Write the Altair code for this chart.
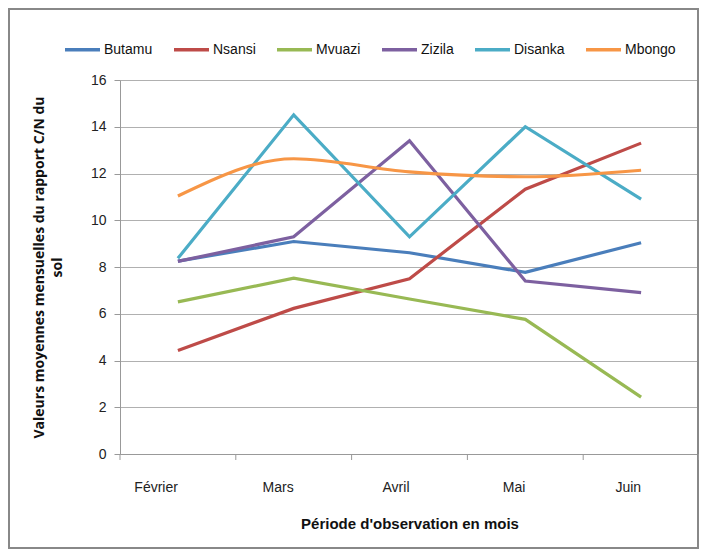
import altair as alt
import pandas as pd

months = ["Février", "Mars", "Avril", "Mai", "Juin"]
series = ["Butamu", "Nsansi", "Mvuazi", "Zizila", "Disanka", "Mbongo"]
butamu = [8.25, 9.09, 8.61, 7.77, 9.04]
nsansi = [4.43, 6.23, 7.5, 11.33, 13.3]
mvuazi = [6.51, 7.52, 6.63, 5.76, 2.43]
zizila = [8.24, 9.29, 13.4, 7.4, 6.9]
disanka = [8.37, 14.51, 9.29, 14.0, 10.9]
mbongo = [11.04, 12.63, 12.07, 11.86, 12.14]
colors = ["#4A7EBB", "#BE4B48", "#98B954", "#7D60A0", "#4BACC6", "#F79646"]

vals = [butamu, nsansi, mvuazi, zizila, disanka, mbongo]
rows = []
for s, v in zip(series, vals):
    for m, y in zip(months, v):
        rows.append({"Série": s, "Mois": m, "Valeur": y, "ordre": series.index(s)})
df = pd.DataFrame(rows)
mdf = pd.DataFrame({"Mois": months})

W, H = 579, 374
FONT = "Liberation Sans, Arial, sans-serif"

xscale = alt.Scale(domain=months, paddingInner=0, paddingOuter=0)
yscale = alt.Scale(domain=[0, 16])
cscale = alt.Scale(domain=series, range=colors)

x_enc = alt.X("Mois:N", scale=xscale, sort=months,
              axis=alt.Axis(title="Période d'observation en mois", labelAngle=0,
                            ticks=False, labelPadding=33, labelFontSize=14,
                            labelColor="#222", domainColor="#999",
                            titleFontSize=15, titleFontWeight="bold", titleColor="#111",
                            titlePadding=22, labelFont=FONT, titleFont=FONT))
y_enc = alt.Y("Valeur:Q", scale=yscale,
              axis=alt.Axis(title=["Valeurs moyennes mensuelles du rapport C/N du", "sol"],
                            values=list(range(0, 17, 2)), tickSize=6, tickColor="#999",
                            domainColor="#999", gridColor="#B0B0B0", labelFontSize=14,
                            labelColor="#222", labelPadding=8, labelFont=FONT,
                            titleFont="Open Sans", titleFontSize=14, titleFontWeight="bold",
                            titleColor="#111", titleX=-88, titleY=187, titleBaseline="top",
                            titleAlign="center", titleLineHeight=18))

legend = alt.Legend(title=None, orient="none", direction="horizontal", legendX=-57,
                    legendY=-50, symbolType="stroke", symbolSize=1225,
                    symbolStrokeWidth=3.5, labelFontSize=14, labelFont=FONT,
                    labelColor="#111", columnPadding=14, labelOffset=2, columns=6)

base = alt.Chart(df)
lines_lin = base.transform_filter(alt.datum["Série"] != "Mbongo").mark_line(
    strokeWidth=3.2).encode(
    x=x_enc, y=y_enc,
    color=alt.Color("Série:N", scale=cscale, sort=series, legend=legend),
    order="ordre:Q",
)
lines_smooth = base.transform_filter(alt.datum["Série"] == "Mbongo").mark_line(
    strokeWidth=3.2, interpolate="monotone").encode(
    x=x_enc, y=y_enc,
    color=alt.Color("Série:N", scale=cscale, sort=series, legend=legend),
)
ticks = alt.Chart(mdf).mark_rule(color="#999").encode(
    x=alt.X("Mois:N", scale=xscale, sort=months, bandPosition=0),
    y=alt.value(H), y2=alt.value(H + 6))
tick_end = alt.Chart(mdf).mark_rule(color="#999").encode(
    x=alt.value(W), y=alt.value(H), y2=alt.value(H + 6))
border = alt.Chart(mdf).mark_rect(fill=None, stroke="#888", strokeWidth=1.5, clip=False).encode(
    x=alt.value(-111), x2=alt.value(W - 1), y=alt.value(-71), y2=alt.value(H + 94))

chart = alt.layer(border, ticks, tick_end, lines_lin, lines_smooth).properties(
    width=W, height=H,
    autosize=alt.AutoSizeParams(type="none"),
    padding={"left": 112, "top": 72, "right": 0, "bottom": 96},
).configure_view(stroke=None).configure(background="white")

chart.save("out.html", embed_options={"renderer": "svg", "actions": False})
